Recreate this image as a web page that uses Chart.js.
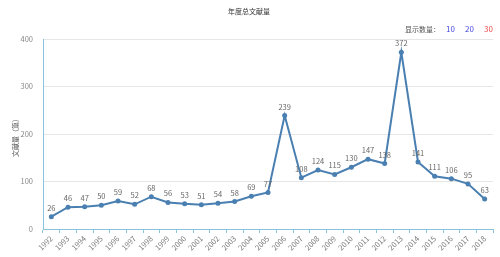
<!DOCTYPE html>
<html lang="zh">
<head>
    <meta charset="UTF-8">
    <title>年度总文献量</title>
    <script src="https://cdn.jsdelivr.net/npm/chart.js"></script>
    <style>
        html, body { margin: 0; padding: 0; background: #fff; }
        #wrap { width: 500px; height: 257px; position: relative; }
    </style>
</head>
<body>
    <div id="wrap"><canvas id="chart"></canvas></div>

    <script>
        // data
        const years = ['1992','1993','1994','1995','1996','1997','1998','1999','2000','2001','2002','2003','2004','2005','2006','2007','2008','2009','2010','2011','2012','2013','2014','2015','2016','2017','2018'];
        const counts = [26, 46, 47, 50, 59, 52, 68, 56, 53, 51, 54, 58, 69, 77, 239, 108, 124, 115, 130, 147, 138, 372, 141, 111, 106, 95, 63];
        const yTicks = [0, 100, 200, 300, 400];

        const chartTitle = '年度总文献量';
        const yTitle = '文献量（篇）';
        const showLabel = '显示数量：';
        const showOptions = ['10', '20', '30'];

        const FONT = '"Noto Sans CJK SC", "Noto Sans", sans-serif';
        const lineColor = '#4a7fb1';
        const axisColor = '#8cc3dc';

        // title, "显示数量" row, y-axis title and the value labels
        const decor = {
            id: 'decor',
            afterDatasetsDraw(chart) {
                const ctx = chart.ctx;
                const area = chart.chartArea;
                ctx.save();

                ctx.font = '7px ' + FONT;
                ctx.fillStyle = '#333';
                ctx.textAlign = 'center';
                ctx.textBaseline = 'middle';
                ctx.fillText(chartTitle, 249, 11);

                // right-hand selector
                ctx.font = '8px ' + FONT;
                ctx.textAlign = 'right';
                const colors = ['#4646e6', '#4646e6', '#f04646'];
                let x = 493;
                for (let i = showOptions.length - 1; i >= 0; i--) {
                    ctx.fillStyle = colors[i];
                    ctx.fillText(showOptions[i], x, 29);
                    x -= 19;
                }
                ctx.font = '7px ' + FONT;
                ctx.fillStyle = '#555';
                ctx.fillText(showLabel, 440, 29);

                // y-axis title
                ctx.save();
                ctx.translate(15, (area.top + area.bottom) / 2 + 2);
                ctx.rotate(-Math.PI / 2);
                ctx.textAlign = 'center';
                ctx.fillStyle = '#555';
                ctx.font = '7px ' + FONT;
                ctx.fillText(yTitle, 0, 0);
                ctx.restore();

                // value labels
                const meta = chart.getDatasetMeta(0);
                ctx.font = '7.5px ' + FONT;
                ctx.fillStyle = '#666';
                ctx.textAlign = 'center';
                ctx.textBaseline = 'bottom';
                meta.data.forEach((pt, i) => {
                    ctx.fillText(String(counts[i]), pt.x, pt.y - 5);
                });
                ctx.restore();
            }
        };

        new Chart(document.getElementById('chart'), {
            type: 'line',
            data: {
                labels: years,
                datasets: [{
                    data: counts,
                    borderColor: lineColor,
                    backgroundColor: lineColor,
                    borderWidth: 2,
                    pointRadius: 2.5,
                    pointBackgroundColor: lineColor,
                    pointBorderWidth: 0,
                    tension: 0
                }]
            },
            options: {
                responsive: true,
                maintainAspectRatio: false,
                animation: false,
                layout: { padding: { top: 39, right: 7, left: 0, bottom: 0 } },
                plugins: {
                    legend: { display: false },
                    tooltip: { enabled: false }
                },
                scales: {
                    x: {
                        offset: true,
                        grid: {
                            offset: true,
                            drawOnChartArea: false,
                            color: axisColor,
                            tickLength: 4
                        },
                        border: { color: axisColor, width: 1 },
                        ticks: {
                            autoSkip: false,
                            minRotation: 45,
                            maxRotation: 45,
                            padding: 1,
                            color: '#777',
                            font: { size: 7.5, family: FONT }
                        },
                        afterFit(scale) { scale.height = 28; }
                    },
                    y: {
                        min: 0,
                        max: 400,
                        afterBuildTicks(scale) {
                            scale.ticks = yTicks.map(v => ({ value: v }));
                        },
                        grid: {
                            color: '#e6e6e6',
                            drawTicks: false
                        },
                        border: { color: axisColor, width: 1 },
                        ticks: {
                            padding: 10,
                            color: '#888',
                            font: { size: 7.5, family: FONT }
                        },
                        afterFit(scale) { scale.width = 43; }
                    }
                }
            },
            plugins: [decor]
        });
    </script>
</body>
</html>
